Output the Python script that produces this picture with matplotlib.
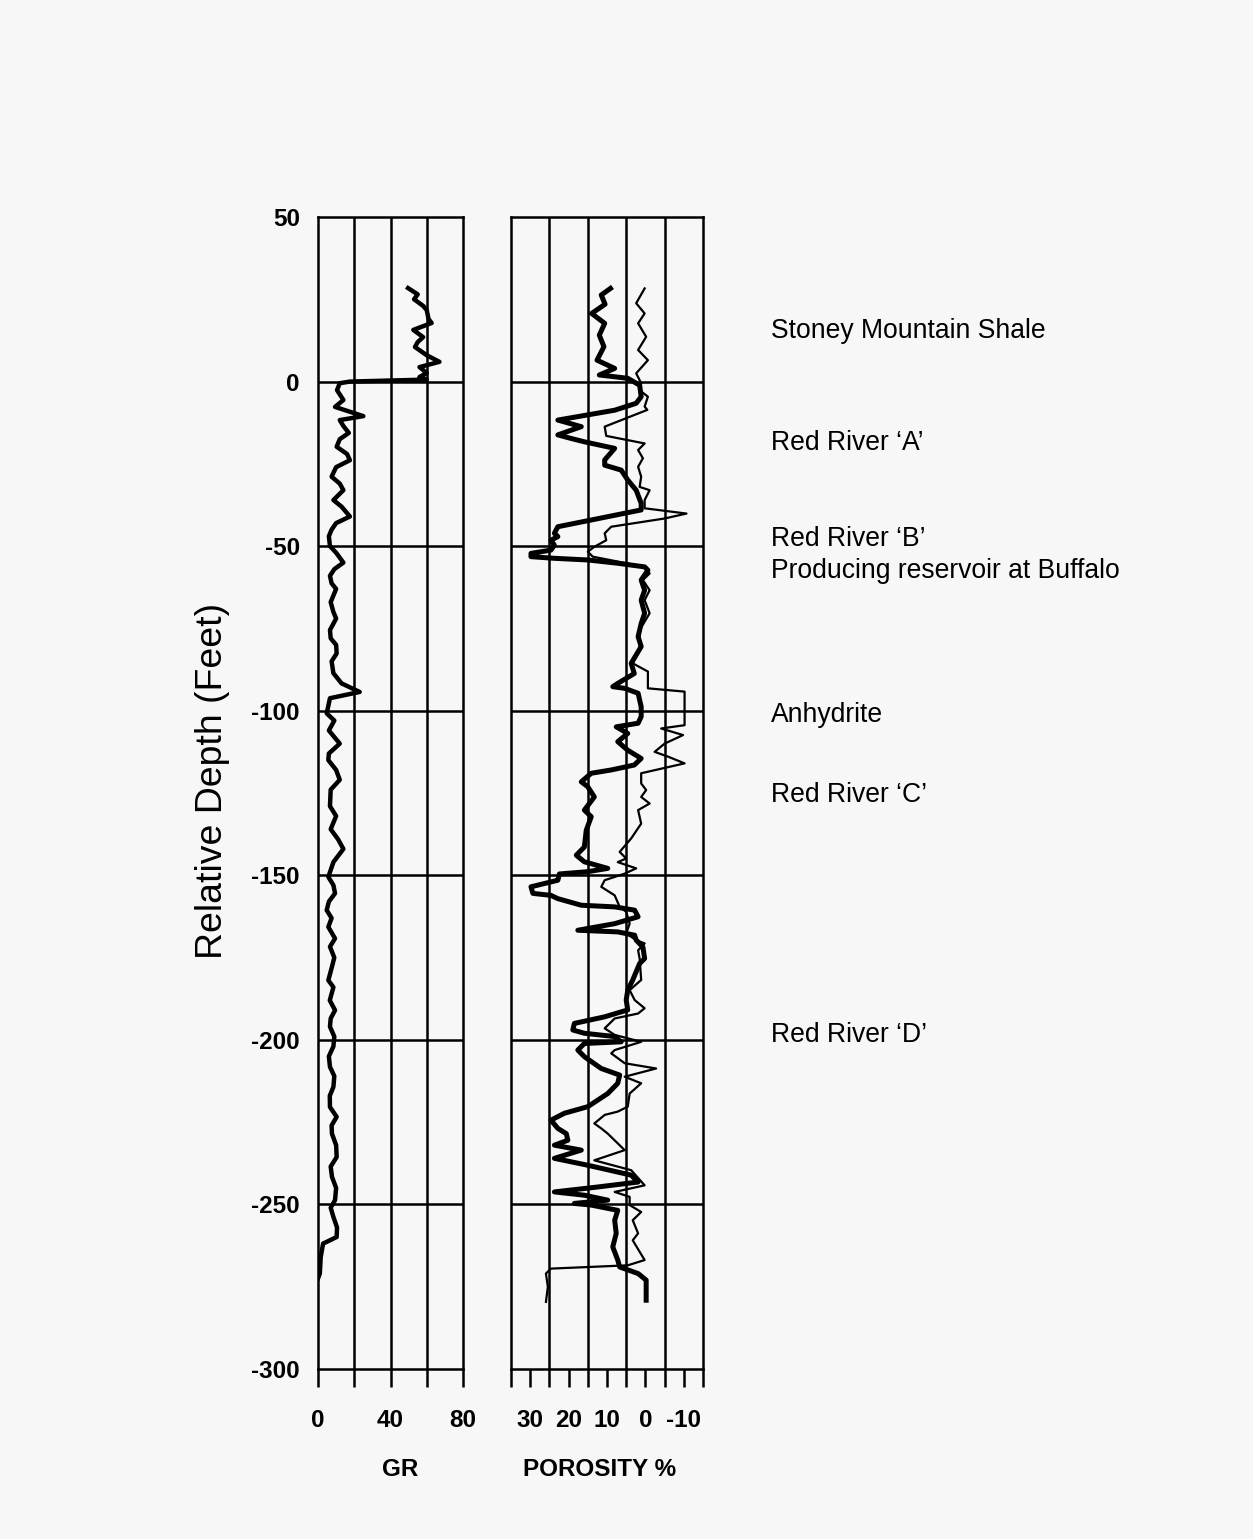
import matplotlib
matplotlib.use("Agg")
import matplotlib.pyplot as plt

# ---------------- data ----------------
gr_depth = [28.4, 26.5, 25.0, 23.0, 21.7, 19.0, 17.8, 15.7, 13.5, 12.0, 10.5, 8.0, 6.0,
            4.4, 2.6, 1.4, 0.6,
            0.0, -0.5, -2.6, -5.6, -7.7, -10.5, -11.7, -13.5, -15.6, -17.5, -19.8,
            -22.0, -23.9, -26.0, -28.9, -31.0, -33.0, -36.0, -38.0, -41.0, -43.0,
            -45.0, -47.0, -50.0, -52.0, -55.0, -57.0, -59.0, -61.3, -63.0, -67.0,
            -70.0, -72.0, -75.5, -78.0, -80.0, -82.6, -85.0, -88.6, -91.7, -94.3,
            -96.2, -100.8, -103.0, -106.0, -110.0, -113.0, -115.0, -118.0, -121.0,
            -124.0, -129.0, -132.0, -136.0, -139.0, -142.0, -146.0, -150.5, -153.0,
            -155.5, -158.0, -160.6, -163.0, -165.7, -169.2, -171.7, -175.0, -177.8,
            -181.9, -184.0, -188.0, -191.0, -193.5, -196.0, -199.0, -202.0, -205.0,
            -208.2, -211.0, -214.3, -217.0, -220.4, -223.4, -226.0, -228.5, -232.0,
            -235.6, -238.5, -241.6, -245.0, -248.7, -251.0, -253.8, -257.0, -259.9,
            -261.9, -266.0, -271.0, -272.5]
gr_value = [49.7, 55.0, 53.0, 58.0, 60.0, 61.0, 62.7, 52.6, 58.0, 55.0, 53.5, 60.0, 67.0,
            56.0, 60.0, 56.0, 60.0,
            17.6, 12.0, 10.5, 14.0, 9.4, 25.0, 12.0, 14.0, 17.0, 12.0, 10.3,
            16.0, 17.6, 10.0, 7.5, 12.0, 14.0, 8.5, 13.0, 17.6, 10.0,
            7.5, 6.0, 6.6, 10.0, 14.0, 9.0, 6.6, 7.5, 10.0, 7.0,
            8.5, 10.0, 6.6, 7.0, 10.0, 10.3, 7.5, 8.5, 13.0, 23.0,
            6.6, 4.8, 9.0, 6.0, 12.0, 6.0, 5.7, 10.0, 12.0,
            7.0, 6.6, 10.0, 7.0, 11.0, 14.0, 8.5, 5.7, 8.5,
            9.4, 6.0, 4.8, 7.5, 5.7, 9.4, 6.6, 9.0, 7.7,
            5.7, 8.5, 6.5, 9.4, 7.0, 6.6, 9.0, 8.5, 6.0,
            6.6, 9.0, 8.5, 6.5, 6.6, 10.3, 7.5, 7.7, 10.0,
            10.3, 7.0, 7.7, 10.0, 9.4, 7.0, 8.5, 10.5, 10.3,
            2.8, 1.5, 1.0, 0.0]

por_thick_depth = [28.3, 26.3, 23.5, 20.7, 17.7, 14.1, 10.6, 6.5, 4.0, 2.0, 1.0, -1.1, -4.6,
                   -6.6, -8.7, -11.7, -13.7, -16.2, -17.3, -18.3, -20.3, -23.8, -25.4,
                   -26.9, -29.9, -33.0, -37.0, -39.0, -44.1, -46.1, -47.1, -48.2, -49.7,
                   -51.2, -52.2, -53.2, -53.7, -54.2, -55.2, -56.3, -57.3, -60.3, -63.4,
                   -66.4, -70.4, -73.5, -77.5, -80.5, -85.6, -88.7, -91.7, -92.7, -93.2,
                   -94.7, -98.8, -101.8, -103.8, -104.9, -106.9, -109.4, -112.0, -114.5,
                   -116.5, -118.0, -119.0, -121.6, -123.1, -126.2, -130.2, -132.2, -136.3,
                   -141.4, -143.9, -145.9, -147.9, -148.9, -149.6, -151.5, -153.5, -155.5,
                   -156.1, -157.1, -159.1, -159.6, -160.6, -162.6, -164.7, -166.7, -167.2,
                   -168.2, -169.7, -171.8, -175.3, -176.8, -181.8, -184.9, -187.9, -190.9,
                   -193.0, -195.0, -197.0, -198.0, -199.0, -200.6, -201.1, -203.1, -205.1,
                   -208.7, -210.7, -213.2, -216.3, -220.3, -222.3, -224.4, -226.9, -228.5,
                   -230.5, -232.0, -233.5, -236.0, -238.1, -241.1, -243.2, -244.7, -246.2,
                   -247.2, -248.7, -249.7, -250.2, -251.8, -254.8, -258.8, -262.9, -266.9,
                   -269.0, -271.0, -273.0, -279.1]
por_thick_value = [9.1, 11.5, 10.5, 14.0, 10.6, 12.0, 10.8, 12.6, 8.0, 12.0, 4.6, 1.5, 1.1,
                   2.4, 8.0, 22.8, 16.7, 22.8, 19.3, 15.9, 8.0, 10.6, 10.6,
                   6.3, 4.6, 2.4, 1.1, 1.1, 22.8, 23.7, 22.8, 24.6, 23.7,
                   24.6, 29.8, 29.8, 23.7, 15.0, 7.2, 0.2, -0.65, 1.1, 0.2,
                   1.1, 0.2, 1.1, 1.9, 1.1, 3.7, 2.9, 7.2, 8.5, 5.4,
                   1.9, 1.1, 1.1, 1.9, 7.6, 4.6, 7.2, 4.6, 1.1,
                   2.9, 8.9, 14.1, 16.7, 15.0, 13.3, 15.9, 14.1, 15.4,
                   15.9, 18.0, 15.9, 9.8, 15.0, 22.4, 22.8, 29.8, 29.3,
                   24.6, 22.8, 16.7, 8.0, 2.8, 1.9, 8.0, 17.6, 7.2,
                   2.8, 2.4, 0.65, 0.2, 1.5, 3.3, 4.6, 5.0, 4.6,
                   10.6, 18.5, 18.9, 15.9, 8.0, 6.3, 15.9, 17.6, 15.9,
                   11.5, 6.7, 7.2, 9.8, 15.0, 21.1, 24.6, 22.8, 20.6,
                   20.2, 23.7, 16.7, 23.7, 15.0, 3.7, 1.9, 12.4, 23.7,
                   15.9, 9.8, 18.5, 14.1, 7.2, 8.0, 7.6, 8.5, 7.2,
                   6.7, 1.9, -0.2, -0.2]

por_thin_depth = [28.3, 23.8, 20.7, 17.7, 13.6, 9.6, 6.5, 2.5, -0.5, -2.6, -4.6, -7.6,
                  -8.6, -13.7, -16.5, -18.8, -20.8, -23.3, -25.9, -28.9, -32.0, -33.0,
                  -36.0, -38.5, -40.1, -41.6, -44.1, -46.1, -48.2, -50.2, -51.7, -53.2,
                  -54.5, -56.3, -58.3, -60.3, -63.4, -66.4, -70.4, -75.5, -81.6, -85.6,
                  -88.1, -93.2, -94.2, -104.4, -105.4, -107.4, -110.0, -112.5, -114.0,
                  -116.0, -119.0, -122.1, -124.1, -126.2, -128.2, -130.2, -134.3, -138.8,
                  -142.9, -144.9, -146.0, -147.9, -149.5, -151.5, -153.5, -156.1, -159.6,
                  -161.1, -164.7, -167.7, -169.7, -170.7, -172.8, -175.3, -181.8, -184.9,
                  -187.9, -190.4, -192.0, -193.5, -196.5, -198.5, -200.6, -203.1, -204.1,
                  -207.1, -208.7, -211.2, -213.2, -216.3, -220.3, -221.8, -222.8, -225.4,
                  -226.9, -228.5, -233.5, -236.6, -239.6, -244.2, -246.2, -247.7, -250.2,
                  -252.3, -254.8, -258.8, -260.9, -266.9, -268.5, -269.5, -271.0, -275.0,
                  -279.6]
por_thin_value = [0.2, 2.4, 0.2, 1.9, -0.2, 1.9, -0.65, 2.4, 1.1, 1.5, -0.65, 0.2,
                  -0.5, 10.6, 10.2, 0.2, 1.9, 0.65, 1.9, 1.1, 1.5, -1.1,
                  0.2, 0.2, -10.7, -5.0, 8.9, 10.6, 10.2, 13.3, 15.0, 13.7,
                  8.0, 0.2, -1.1, 0.65, -1.1, 0.2, -1.1, 1.5, 1.5, 3.3,
                  -0.65, -0.65, -10.2, -10.2, -4.1, -9.8, -5.0, -2.4, -6.0,
                  -10.2, 1.1, 1.1, -0.2, 1.1, -1.1, 1.9, 1.1, 3.7,
                  6.7, 5.0, 7.2, 2.4, 5.4, 10.6, 11.5, 8.0, 6.7,
                  5.0, 4.1, 5.0, 2.4, 0.2, 1.9, 1.5, 1.1, 4.1,
                  2.8, 0.2, 1.9, 8.0, 10.6, 8.0, 1.1, 8.0, 8.9,
                  5.4, -2.8, 5.4, 1.1, 4.1, 4.6, 7.2, 10.6, 13.3,
                  11.5, 9.8, 5.4, 13.3, 3.7, 0.2, 8.0, 4.1, 4.1,
                  1.1, 3.3, 1.9, 3.3, 0.2, 4.6, 24.6, 25.9, 25.4,
                  25.9]

depth_grid = [0, -50, -100, -150, -200, -250]
depth_ticks = [50, 0, -50, -100, -150, -200, -250, -300]
gr_grid = [20, 40, 60]
gr_ticks = [0, 20, 40, 60, 80]
gr_ticklabels = ["0", "", "40", "", "80"]
por_grid = [25, 15, 5, -5]
por_ticks = [35, 30, 25, 20, 15, 10, 5, 0, -5, -10, -15]
por_ticklabels = ["", "30", "", "20", "", "10", "", "0", "", "-10", ""]

zones = ["Stoney Mountain Shale", "Red River \u2018A\u2019", "Red River \u2018B\u2019",
         "Producing reservoir at Buffalo", "Anhydrite", "Red River \u2018C\u2019",
         "Red River \u2018D\u2019"]
zone_y = [331, 443, 539, 571, 715, 795, 1035]  # pixel rows of the labels

# ---------------- figure ----------------
W, H = 1253, 1539
bg = "#f7f7f7"
plt.rcParams["font.family"] = ["Liberation Sans", "DejaVu Sans"]
fig = plt.figure(figsize=(W / 100, H / 100), dpi=100, facecolor=bg)

def px_axes(x0, x1, y0, y1):
    return fig.add_axes([x0 / W, 1 - y1 / H, (x1 - x0) / W, (y1 - y0) / H])

ax1 = px_axes(318, 463, 217, 1369)
ax2 = px_axes(511, 703, 217, 1369)

LW = 1.8
for ax in (ax1, ax2):
    ax.set_facecolor(bg)
    ax.set_ylim(-300, 50)
    for s in ax.spines.values():
        s.set_linewidth(LW)
        s.set_color("black")
    for d in depth_grid:
        ax.axhline(d, color="black", lw=LW, zorder=1)
    ax.tick_params(axis="x", direction="out", length=13, width=LW, pad=16,
                   labelsize=17.5)
    ax.tick_params(axis="y", length=0)

# GR panel
ax1.set_xlim(0, 80)
for g in gr_grid:
    ax1.axvline(g, color="black", lw=LW, zorder=1)
ax1.plot(gr_value, gr_depth, color="black", lw=3.2, zorder=3,
         solid_joinstyle="round")
ax1.set_xticks(gr_ticks)
ax1.set_xticklabels(gr_ticklabels, fontweight="bold", fontsize=17.5)
ax1.set_yticks(depth_ticks)
ax1.set_yticklabels([str(v) for v in depth_ticks], fontweight="bold", fontsize=17.5)
ax1.tick_params(axis="y", pad=13)

# Porosity panel
ax2.set_xlim(35, -15)
for g in por_grid:
    ax2.axvline(g, color="black", lw=LW, zorder=1)
ax2.plot(por_thin_value, por_thin_depth, color="black", lw=1.6, zorder=3)
ax2.plot(por_thick_value, por_thick_depth, color="black", lw=3.6, zorder=4,
         solid_joinstyle="round")
ax2.set_xticks(por_ticks)
ax2.set_xticklabels(por_ticklabels, fontweight="bold", fontsize=17.5)
ax2.set_yticks([])

# axis titles
fig.text(400 / W, 1 - 1470 / H, "GR", ha="center", va="center",
         fontsize=17.5, fontweight="bold")
fig.text(600 / W, 1 - 1470 / H, "POROSITY %", ha="center", va="center",
         fontsize=17.5, fontweight="bold")
fig.text(213 / W, 1 - 781 / H, "Relative Depth (Feet)", rotation=90,
         ha="center", va="center", fontsize=26.9)

for name, yp in zip(zones, zone_y):
    fig.text(771 / W, 1 - yp / H, name, ha="left", va="center", fontsize=19.1)

fig.savefig("out.png", dpi=100, facecolor=bg)
